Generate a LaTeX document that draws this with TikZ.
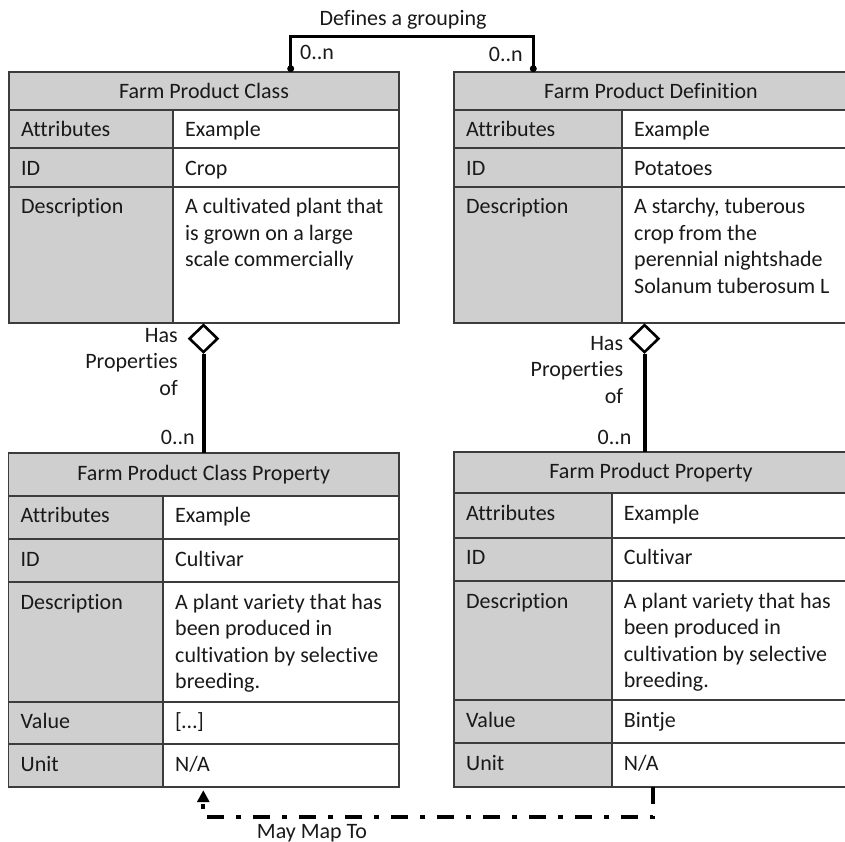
\documentclass[tikz,border=0pt]{standalone}
\usepackage{fontspec}
\setmainfont{Carlito}[Ligatures={NoCommon}]
\usetikzlibrary{shapes.geometric,arrows.meta,calc}

\definecolor{cellgrey}{RGB}{208,207,207}
\definecolor{cellrule}{RGB}{60,60,60}
\definecolor{ink}{RGB}{25,25,25}

\tikzset{
  cellline/.style={draw=cellrule, line width=1.8pt},
  celltext/.style={font=\fontsize{22}{26.5}\selectfont, text=ink, inner sep=0pt, anchor=base west},
  titletext/.style={font=\fontsize{22}{26.5}\selectfont, text=ink, inner sep=0pt, anchor=base},
  lbl/.style={font=\fontsize{22}{26.5}\selectfont, text=ink, inner sep=0pt},
  frame/.style={draw=none, inner sep=0pt, anchor=north west},
  link/.style={draw=black, line width=3pt},
  aggr/.style={draw=black, line width=4pt},
  agghead/.style={shape=diamond, draw=black, fill=white, line width=2.6pt,
    inner sep=0pt, minimum width=29pt, minimum height=28pt},
  endpoint/.style={circle, fill=black, inner sep=0pt, minimum size=7pt},
  mapline/.style={draw=black, line width=4pt,
    dash pattern=on 17pt off 12pt on 5pt off 12pt},
}

% top-aligned multi-line cell contents; the node baseline is the first line
\newcommand{\fpwrap}[1]{\parbox[t]{240pt}{#1}}

% header row: name, x0, x1, ytop, ybot, text
\newcommand{\fphead}[6]{%
  \draw[cellline, fill=cellgrey] (#2,#4) rectangle (#3,#5);
  \node[titletext] (#1) at ({(#2+#3)/2}, #4+27) {#6};
}

% attribute row: name, x0, xdiv, x1, ytop, ybot, key, value
\newcommand{\fprow}[8]{%
  \fill[cellgrey] (#2,#5) rectangle (#3,#6);
  \fill[white] (#3,#5) rectangle (#4,#6);
  \draw[cellline] (#2,#5) rectangle (#4,#6) (#3,#5) -- (#3,#6);
  \node[celltext] (#1-k) at (#2+12, #5+27) {\fpwrap{#7}};
  \node[celltext] (#1-v) at (#3+12, #5+27) {\fpwrap{#8}};
}

\begin{document}
\begin{tikzpicture}[x=1pt, y=-1pt]
\useasboundingbox (0,0) rectangle (845,842);

% ---------- Farm Product Class ----------
\node[frame, minimum width=390pt, minimum height=251.6pt] (fpc) at (9,71.7) {};
\fphead{fpc-t}{9}{399}{71.7}{109.7}{Farm Product Class}
\fprow{fpc-a}{9}{173}{399}{109.7}{148.2}{Attributes}{Example}
\fprow{fpc-i}{9}{173}{399}{148.2}{186.7}{ID}{Crop}
\fprow{fpc-d}{9}{173}{399}{186.7}{323.3}{Description}{A cultivated plant that\\is grown on a large\\scale commercially}

% ---------- Farm Product Definition ----------
\node[frame, minimum width=394pt, minimum height=251.6pt] (fpd) at (454,71.7) {};
\fphead{fpd-t}{454}{848}{71.7}{109.7}{Farm Product Definition}
\fprow{fpd-a}{454}{622}{848}{109.7}{148.2}{Attributes}{Example}
\fprow{fpd-i}{454}{622}{848}{148.2}{186.7}{ID}{Potatoes}
\fprow{fpd-d}{454}{622}{848}{186.7}{323.3}{Description}{A starchy, tuberous\\crop from the\\perennial nightshade\\Solanum tuberosum L}

% ---------- Farm Product Class Property ----------
\node[frame, minimum width=390.5pt, minimum height=334pt] (fpcp) at (8.5,453.3) {};
\fphead{fpcp-t}{8.5}{399}{453.3}{495.7}{Farm Product Class Property}
\fprow{fpcp-a}{8.5}{163}{399}{495.7}{539}{Attributes}{Example}
\fprow{fpcp-i}{8.5}{163}{399}{539}{582.3}{ID}{Cultivar}
\fprow{fpcp-d}{8.5}{163}{399}{582.3}{701.7}{Description}{A plant variety that has\\been produced in\\cultivation by selective\\breeding.}
\fprow{fpcp-v}{8.5}{163}{399}{701.7}{744.3}{Value}{[…]}
\fprow{fpcp-u}{8.5}{163}{399}{744.3}{787.3}{Unit}{N/A}

% ---------- Farm Product Property ----------
\node[frame, minimum width=394pt, minimum height=335pt] (fpp) at (454,451.7) {};
\fphead{fpp-t}{454}{848}{451.7}{493.3}{Farm Product Property}
\fprow{fpp-a}{454}{611.7}{848}{493.3}{537.7}{Attributes}{Example}
\fprow{fpp-i}{454}{611.7}{848}{537.7}{581}{ID}{Cultivar}
\fprow{fpp-d}{454}{611.7}{848}{581}{700}{Description}{A plant variety that has\\been produced in\\cultivation by selective\\breeding.}
\fprow{fpp-v}{454}{611.7}{848}{700}{743.3}{Value}{Bintje}
\fprow{fpp-u}{454}{611.7}{848}{743.3}{786.7}{Unit}{N/A}

% ---------- grouping link between the two upper classes ----------
\node[endpoint] (gA) at ($(fpc.north west)+(281.7,-3)$) {};
\node[endpoint] (gB) at ($(fpd.north west)+(79.3,-3)$) {};
\draw[link] (gA.center) -- ++(0,-32) -| (gB.center);
\node[lbl, anchor=base] (grp) at (403,26) {Defines a grouping};
\node[lbl, anchor=base west] (mA) at (300,59.3) {0..n};
\node[lbl, anchor=base east] (mB) at (523,61.7) {0..n};

% ---------- aggregation: class -> class property ----------
\node[agghead, anchor=north] (dA) at (203.5,323.3) {};
\draw[aggr] (dA.south) -- (dA.south |- fpcp.north);
\node[lbl, anchor=base east] (hA) at (178,342)
  {\parbox[t]{120pt}{\raggedleft Has\\Properties\\of}};
\node[lbl, anchor=base east] (nA) at (195,444.5) {0..n};

% ---------- aggregation: definition -> property ----------
\node[agghead, anchor=north] (dB) at (644.5,323.3) {};
\draw[aggr] (dB.south) -- (dB.south |- fpp.north);
\node[lbl, anchor=base east] (hB) at (623.3,350)
  {\parbox[t]{120pt}{\raggedleft Has\\Properties\\of}};
\node[lbl, anchor=base east] (nB) at (631.7,444) {0..n};

% ---------- optional mapping between the two property classes ----------
\coordinate (pB) at ($(fpp.south west)+(199.3,0)$);
\coordinate (pA) at ($(fpcp.south west)+(194.8,2.5)$);
\draw[mapline, -{Triangle[width=12pt,length=12pt]}]
  (pB) -- ++(0,30.3) -| (pA);
\node[lbl, anchor=base] (map) at (312,838) {May Map To};
\end{tikzpicture}
\end{document}
